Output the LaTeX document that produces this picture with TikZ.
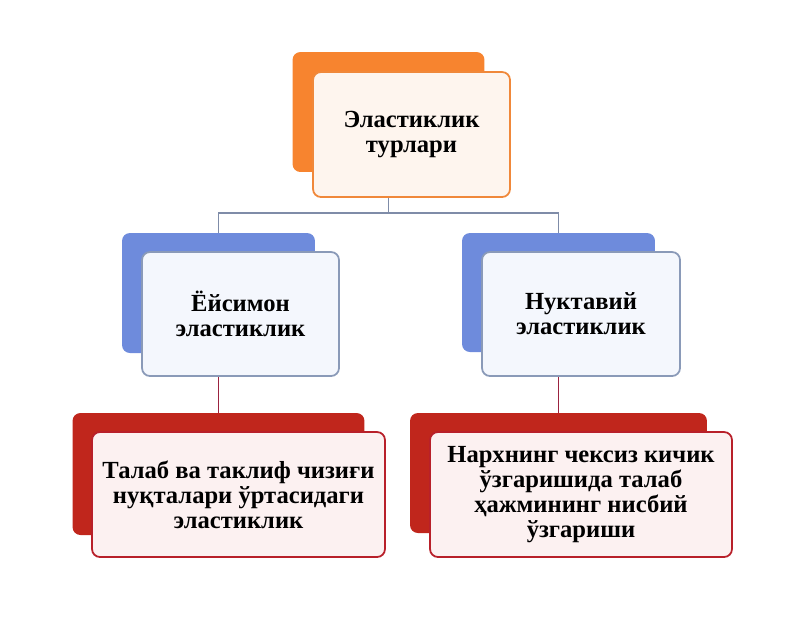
\documentclass[tikz,border=0pt]{standalone}
\usepackage{fontspec}
\setmainfont{Liberation Serif}
\definecolor{orangeback}{HTML}{F7842F}
\definecolor{orangeline}{HTML}{F0883A}
\definecolor{orangefill}{HTML}{FEF5EE}
\definecolor{blueback}{HTML}{6E8BDC}
\definecolor{blueline}{HTML}{8A9AB8}
\definecolor{bluefill}{HTML}{F4F7FD}
\definecolor{redback}{HTML}{C0261C}
\definecolor{redline}{HTML}{B8202A}
\definecolor{redfill}{HTML}{FCF1F1}
\definecolor{toplink}{HTML}{7F8CA8}
\definecolor{lowlink}{HTML}{9B2340}

\begin{document}
\begin{tikzpicture}[x=0.02cm,y=-0.02cm,
  back/.style={rectangle,rounded corners=4.5pt,inner sep=0pt},
  front/.style={rectangle,rounded corners=4.5pt,line width=1pt,align=center,
    font=\bfseries\fontsize{14}{14.2}\selectfont},
  link/.style={line width=0.9pt}]
  \useasboundingbox (0,0) rectangle (800,633);
  % back plates
  \node (topb) at (388.5,112) [back,fill=orangeback,minimum width=3.84cm,minimum height=2.4cm] {};
  \node (leftb) at (218.5,293) [back,fill=blueback,minimum width=3.86cm,minimum height=2.4cm] {};
  \node (rightb) at (558.5,292.5) [back,fill=blueback,minimum width=3.86cm,minimum height=2.38cm] {};
  \node (leftr) at (218.5,474) [back,fill=redback,minimum width=5.84cm,minimum height=2.44cm] {};
  \node (rightr) at (558.5,473) [back,fill=redback,minimum width=5.94cm,minimum height=2.4cm] {};
  % connectors
  \coordinate (split) at (388.5,213);
  \draw[link,toplink] (topb.south) to (split);
  \draw[link,toplink] (split) -| (leftb.north);
  \draw[link,toplink] (split) -| (rightb.north);
  \draw[link,lowlink] (leftb.south) to (leftr.north);
  \draw[link,lowlink] (rightb.south) to (rightr.north);
  % front boxes
  \node (top) at (411.5,134.5) [front,draw=orangeline,fill=orangefill,minimum width=3.94cm,minimum height=2.5cm] {Эластиклик\\турлари};
  \node (left) at (240.5,314) [front,draw=blueline,fill=bluefill,minimum width=3.94cm,minimum height=2.48cm] {Ёйсимон\\эластиклик};
  \node (right) at (581,314) [front,draw=blueline,fill=bluefill,minimum width=3.96cm,minimum height=2.48cm] {Нуктавий\\эластиклик};
  \node (leftl) at (238.5,494.5) [front,draw=redline,fill=redfill,minimum width=5.86cm,minimum height=2.5cm] {Талаб ва таклиф чизиғи\\нуқталари ўртасидаги\\эластиклик};
  \node (rightl) at (581,494.5) [front,draw=redline,fill=redfill,minimum width=6.04cm,minimum height=2.5cm] {Нархнинг чексиз кичик\\ўзгаришида талаб\\ҳажмининг нисбий\\ўзгариши};
\end{tikzpicture}
\end{document}
